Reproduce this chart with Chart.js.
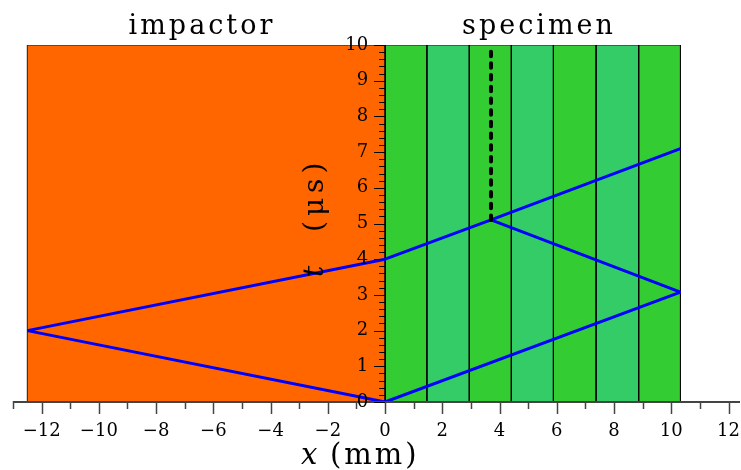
<!DOCTYPE html>
<html>
<head>
<meta charset="utf-8">
<script src="https://cdn.jsdelivr.net/npm/chart.js@4"></script>
<style>
  body { margin: 0; background: #fff; }
  canvas { display: block; }
</style>
</head>
<body>
<canvas id="waveChart" width="741" height="470"></canvas>
<script>
// impactor block (x in mm)
const impactorLeft = -12.5;
const impactorRight = 0;
// specimen layers: boundaries in mm
const layerEdges = [0, 1.46, 2.94, 4.41, 5.88, 7.37, 8.86, 10.32];
const layerColors = ["#33cc33", "#33cc66"];
const tMax = 10;

// wave paths (x mm, t µs)
const waveImpactorX = [0, -12.5, 0];
const waveImpactorT = [0, 2, 4];
const waveSpecimenX = [0, 10.32, 3.7];
const waveSpecimenT = [0, 3.08, 5.1];
const waveReflectX = [0, 3.7, 10.32];
const waveReflectT = [4, 5.1, 7.1];
const interfaceX = [3.7, 3.7];
const interfaceT = [5.1, 10];

const xTickValues = [-12, -10, -8, -6, -4, -2, 0, 2, 4, 6, 8, 10, 12];
const yTickValues = [0, 1, 2, 3, 4, 5, 6, 7, 8, 9, 10];

function pts(xs, ts) {
  return xs.map((x, i) => ({ x: x, y: ts[i] }));
}

function box(x0, x1, color) {
  return {
    data: pts([x0, x0, x1, x1, x0], [0, tMax, tMax, 0, 0]),
    showLine: true,
    pointRadius: 0,
    borderColor: "rgba(0,0,0,0.85)",
    borderWidth: 1,
    backgroundColor: color,
    fill: "shape",
    order: 2,
  };
}

const datasets = [];
datasets.push(box(impactorLeft, impactorRight, "#ff6600"));
for (let i = 0; i < layerEdges.length - 1; i++) {
  datasets.push(box(layerEdges[i], layerEdges[i + 1], layerColors[i % 2]));
}

function wave(xs, ts) {
  return {
    data: pts(xs, ts),
    showLine: true,
    pointRadius: 0,
    borderColor: "#0000ff",
    borderWidth: 3,
    borderJoinStyle: "bevel",
    fill: false,
    order: 1,
  };
}
datasets.push(wave(waveImpactorX, waveImpactorT));
datasets.push(wave(waveSpecimenX, waveSpecimenT));
datasets.push(wave(waveReflectX, waveReflectT));
datasets.push({
  data: pts(interfaceX, interfaceT),
  showLine: true,
  pointRadius: 0,
  borderColor: "#000000",
  borderWidth: 4,
  borderCapStyle: "round",
  borderDash: [4.5, 7.2],
  fill: false,
  order: 0,
});

const axesPlugin = {
  id: "axesPlugin",
  afterDatasetsDraw(chart) {
    const c = chart.ctx;
    const xs = chart.scales.x;
    const ys = chart.scales.y;
    const area = chart.chartArea;
    const y0 = ys.getPixelForValue(0);
    const x0 = xs.getPixelForValue(0);
    c.save();

    // x axis
    c.strokeStyle = "#444";
    c.lineWidth = 2;
    c.beginPath();
    c.moveTo(area.left, y0);
    c.lineTo(area.right, y0);
    c.stroke();
    c.lineWidth = 1.5;
    for (let v = -13; v <= 12; v++) {
      const px = Math.round(xs.getPixelForValue(v)) + 0.5;
      const len = v % 2 === 0 ? 12 : 7;
      c.beginPath();
      c.moveTo(px, y0 - 1);
      c.lineTo(px, y0 + len);
      c.stroke();
    }
    c.fillStyle = "#000";
    c.font = "18px 'DejaVu Serif'";
    c.textAlign = "center";
    c.textBaseline = "middle";
    xTickValues.forEach((v) => {
      const txt = v < 0 ? "\u2212" + Math.abs(v) : String(v);
      c.fillText(txt, xs.getPixelForValue(v), y0 + 29);
    });

    // y axis ticks at x = 0
    c.strokeStyle = "#000";
    c.lineWidth = 1;
    for (let k = 0; k <= 50; k++) {
      const v = k / 5;
      const py = Math.round(ys.getPixelForValue(v)) + 0.5;
      const len = k % 5 === 0 ? 11 : 6;
      c.beginPath();
      c.moveTo(x0 - len, py);
      c.lineTo(x0, py);
      c.stroke();
    }
    c.textAlign = "right";
    yTickValues.forEach((v) => {
      c.fillText(String(v), x0 - 17, ys.getPixelForValue(v));
    });

    // block titles
    c.font = "27px 'DejaVu Serif'";
    c.textAlign = "center";
    c.letterSpacing = "3px";
    c.fillText("impactor", 202, 27);
    c.fillText("specimen", 539, 27);

    // axis titles
    c.letterSpacing = "0px";
    c.font = "italic 29px 'DejaVu Serif'";
    c.textAlign = "left";
    c.fillText("x", 301, 456);
    c.letterSpacing = "3px";
    c.font = "29px 'DejaVu Serif'";
    c.fillText("(mm)", 330, 456);

    c.translate(316, 215);
    c.rotate(-Math.PI / 2);
    c.letterSpacing = "0px";
    c.font = "italic 28px 'DejaVu Serif'";
    c.fillText("t", -62, 0);
    c.letterSpacing = "5px";
    c.font = "28px 'DejaVu Serif'";
    c.fillText("(\u03bcs)", -17, 0);
    c.restore();
  },
};

const ctx = document.getElementById("waveChart").getContext("2d");
new Chart(ctx, {
  type: "scatter",
  data: { datasets: datasets },
  options: {
    responsive: false,
    animation: false,
    devicePixelRatio: 1,
    layout: { padding: { left: 13, right: 1, top: 45, bottom: 68 } },
    plugins: { legend: { display: false }, tooltip: { enabled: false } },
    scales: {
      x: { type: "linear", min: -13, max: 12.4, display: false },
      y: { type: "linear", min: 0, max: 10, display: false },
    },
  },
  plugins: [axesPlugin],
});
</script>
</body>
</html>
